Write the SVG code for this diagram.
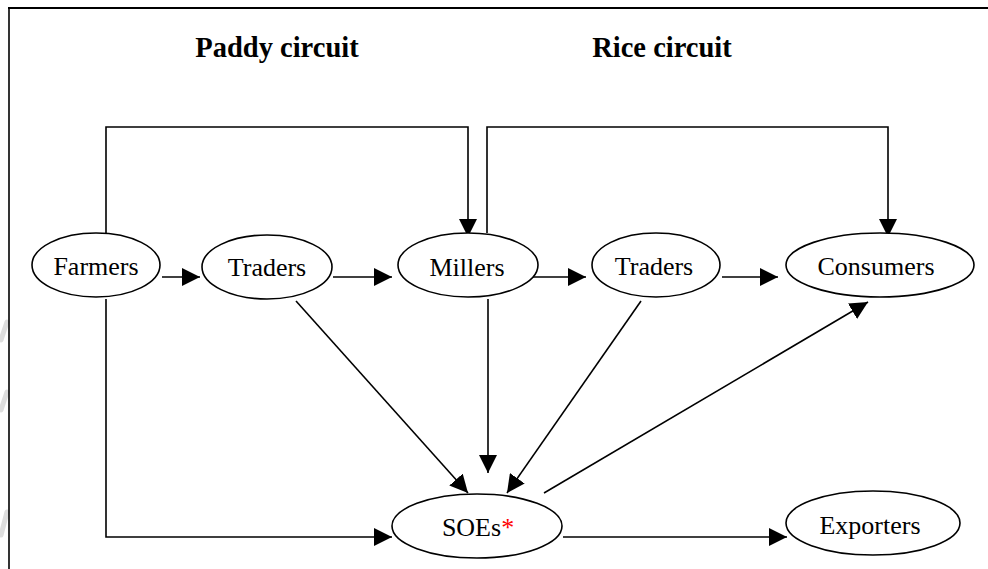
<svg xmlns="http://www.w3.org/2000/svg" width="988" height="569" viewBox="0 0 988 569">
<style>
.node ellipse{fill:#fff;stroke:#000;stroke-width:1.6}
.node text{font-family:"Liberation Serif","Times New Roman",serif;font-size:26px;fill:#000;text-anchor:middle}
.title{font-family:"Liberation Serif","Times New Roman",serif;font-size:28.5px;font-weight:bold;fill:#000;text-anchor:middle}
#connectors path{fill:none;stroke:#000;stroke-width:1.6}
</style>
<defs>
<marker id="ah" viewBox="0 0 18 18" refX="18" refY="9" markerWidth="18" markerHeight="18" markerUnits="userSpaceOnUse" orient="auto">
<path d="M0,0 L18,9 L0,18 Z" fill="#000"/>
</marker>
</defs>
<rect width="988" height="569" fill="#fff"/>
<g id="watermark" stroke="#dedede" stroke-width="5" fill="none" stroke-linecap="round">
<path d="M1,340 L7,322"/>
<path d="M1,410 L7,392"/>
<path d="M1,535 L7,512"/>
</g>
<g id="frame" stroke="#000" fill="none">
<line x1="8" y1="8" x2="988" y2="8" stroke-width="2.2"/>
<line x1="9" y1="8" x2="9" y2="569" stroke-width="1.6"/>
</g>
<text class="title" x="277" y="57">Paddy circuit</text>
<text class="title" x="662" y="57">Rice circuit</text>
<g id="connectors">
<path d="M162,277 L200,277" marker-end="url(#ah)"/>
<path d="M333,277 L392,277" marker-end="url(#ah)"/>
<path d="M528,277 L586,277" marker-end="url(#ah)"/>
<path d="M722,277 L778,277" marker-end="url(#ah)"/>
<path d="M106,233 L106,127 L468,127 L468,237" marker-end="url(#ah)"/>
<path d="M487,233 L487,127 L888,127 L888,237" marker-end="url(#ah)"/>
<path d="M106,299 L106,537 L392,537" marker-end="url(#ah)"/>
<path d="M296,301 L468,493" marker-end="url(#ah)"/>
<path d="M488,299 L488,473" marker-end="url(#ah)"/>
<path d="M641,301 L507,493" marker-end="url(#ah)"/>
<path d="M544,493 L868,302" marker-end="url(#ah)"/>
<path d="M563,537 L787,537" marker-end="url(#ah)"/>
</g>
<g id="farmers" class="node"><ellipse cx="96" cy="265" rx="64" ry="32"/><text x="96" y="275">Farmers</text></g>
<g id="traders1" class="node"><ellipse cx="267" cy="267" rx="65" ry="32"/><text x="267" y="276">Traders</text></g>
<g id="millers" class="node"><ellipse cx="468" cy="265" rx="70" ry="32"/><text x="467" y="276">Millers</text></g>
<g id="traders2" class="node"><ellipse cx="656" cy="265" rx="64" ry="32"/><text x="654" y="275">Traders</text></g>
<g id="consumers" class="node"><ellipse cx="880" cy="265" rx="94" ry="32"/><text x="876" y="275">Consumers</text></g>
<g id="soes" class="node"><ellipse cx="477" cy="526" rx="85" ry="32"/><text x="478" y="536">SOEs<tspan fill="#ff0000">*</tspan></text></g>
<g id="exporters" class="node"><ellipse cx="873" cy="523" rx="87" ry="32"/><text x="870" y="534">Exporters</text></g>
</svg>
